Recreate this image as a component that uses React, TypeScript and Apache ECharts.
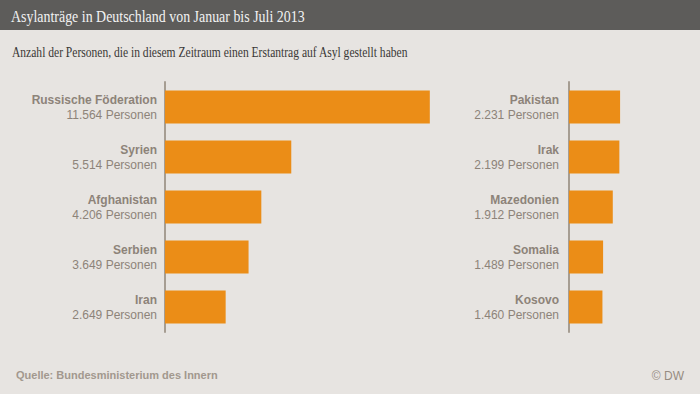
import React, { useEffect, useRef } from "react";
import * as echarts from "echarts";

const titleText = "Asylanträge in Deutschland von Januar bis Juli 2013";
const subtitleText = "Anzahl der Personen, die in diesem Zeitraum einen Erstantrag auf Asyl gestellt haben";
const sourceText = "Quelle: Bundesministerium des Innern";
const creditText = "© DW";
const unitText = "Personen";

const leftCountries = ["Russische Föderation", "Syrien", "Afghanistan", "Serbien", "Iran"];
const leftValues = [11564, 5514, 4206, 3649, 2649];
const rightCountries = ["Pakistan", "Irak", "Mazedonien", "Somalia", "Kosovo"];
const rightValues = [2231, 2199, 1912, 1489, 1460];

const fmt = (v: number) => String(v).replace(/\B(?=(\d{3})+(?!\d))/g, ".");

const LABEL = "#8d8379";
const AXIS = "#a69d92";
const BAR = "#eb8d17";
const BG = "#e7e4e1";

export default function App() {
  const ref = useRef<HTMLDivElement>(null);
  useEffect(() => {
    document.body.style.margin = "0";
    if (!ref.current) return;
    const chart = echarts.init(ref.current, undefined, { renderer: "svg" });
    const makeLabel = (names: string[], values: number[], margin: number) => ({
      show: true,
      margin,
      formatter: (val: string) => {
        const i = names.indexOf(val);
        return `{n|${val}}\n{v|${fmt(values[i])} ${unitText}}`;
      },
      rich: {
        n: { fontFamily: "Liberation Sans, Arial", fontSize: 12, fontWeight: "bold", color: LABEL, lineHeight: 15, align: "right" },
        v: { fontFamily: "Liberation Sans, Arial", fontSize: 12, color: LABEL, lineHeight: 15, align: "right" },
      },
    });
    const option: any = {
      animation: false,
      backgroundColor: BG,
      grid: [
        { left: 165, top: 82, width: 274.8, height: 250 },
        { left: 569, top: 82, width: 114.5, height: 250 },
      ],
      xAxis: [
        { type: "value", gridIndex: 0, min: 0, max: 12000, show: false },
        { type: "value", gridIndex: 1, min: 0, max: 5000, show: false },
      ],
      yAxis: [
        {
          type: "category", gridIndex: 0, inverse: true, data: leftCountries,
          axisLine: { show: true, lineStyle: { color: AXIS, width: 2 } },
          axisTick: { show: false },
          axisLabel: makeLabel(leftCountries, leftValues, 8),
        },
        {
          type: "category", gridIndex: 1, inverse: true, data: rightCountries,
          axisLine: { show: true, lineStyle: { color: AXIS, width: 2 } },
          axisTick: { show: false },
          axisLabel: makeLabel(rightCountries, rightValues, 10),
        },
      ],
      series: [
        { type: "bar", xAxisIndex: 0, yAxisIndex: 0, data: leftValues, barWidth: 33, itemStyle: { color: BAR } },
        { type: "bar", xAxisIndex: 1, yAxisIndex: 1, data: rightValues, barWidth: 33, itemStyle: { color: BAR } },
      ],
      graphic: [
        { type: "rect", left: 0, top: 0, shape: { width: 700, height: 30 }, style: { fill: "#5d5c5a" }, z: 0 },
        {
          type: "text", x: 11, y: 16, scaleX: 0.84, z: 1,
          style: { text: titleText, fontFamily: "Liberation Serif", fontSize: 16.6, fill: "#f2f2f2", verticalAlign: "middle" },
        },
        {
          type: "text", x: 12, y: 53, scaleX: 0.85, z: 1,
          style: { text: subtitleText, fontFamily: "Liberation Serif", fontSize: 13.6, fill: "#3a3836", verticalAlign: "middle" },
        },
        {
          type: "text", x: 16, y: 375, z: 1,
          style: { text: sourceText, fontFamily: "Liberation Sans, Arial", fontSize: 11, fontWeight: "bold", fill: "#a2988e", verticalAlign: "middle" },
        },
        {
          type: "text", x: 684, y: 376, z: 1,
          style: { text: creditText, fontFamily: "Liberation Sans, Arial", fontSize: 12, fill: "#968c82", align: "right", verticalAlign: "middle" },
        },
      ],
    };
    chart.setOption(option);
    return () => chart.dispose();
  }, []);
  return <div ref={ref} style={{ width: 700, height: 394, position: "absolute", left: 0, top: 0, background: BG }} />;
}
